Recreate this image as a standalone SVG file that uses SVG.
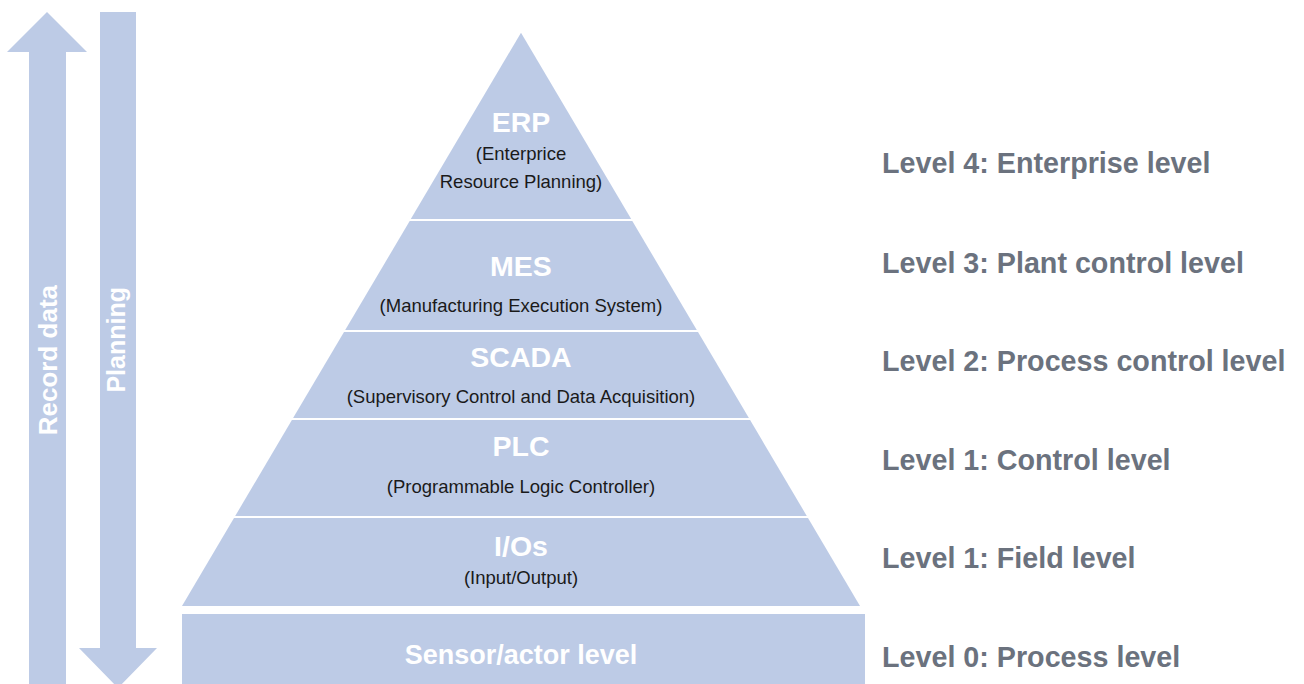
<svg xmlns="http://www.w3.org/2000/svg" width="1304" height="684" viewBox="0 0 1304 684">
<style>
.fill{fill:#bdcbe6}
.t{font-family:"Liberation Sans",Arial,sans-serif;fill:#ffffff;text-anchor:middle}
.title{font-size:28.5px;font-weight:bold}
.sub{font-size:18.5px;fill:#1a1a1a}
.lvl{font-family:"Liberation Sans",Arial,sans-serif;font-size:28.7px;font-weight:bold;fill:#6b727e}
.vert{font-family:"Liberation Sans",Arial,sans-serif;font-size:25px;font-weight:bold;fill:#ffffff;text-anchor:end}
</style>
<rect width="1304" height="684" fill="#ffffff"/>
<g id="arrow-record">
<polygon class="fill" points="47,12 87,52 66,52 66,684 29,684 29,52 7,52"/>
<text class="vert" transform="translate(57,285) rotate(-90)" style="font-size:26px">Record data</text>
</g>
<g id="arrow-planning">
<polygon class="fill" points="100,12 136,12 136,648 157,648 118,688 79,648 100,648"/>
<text class="vert" transform="translate(125,287) rotate(-90)">Planning</text>
</g>
<g id="erp">
<polygon class="fill" points="521,32.7 631.2,219 410.8,219"/>
<text class="t title" x="521" y="132">ERP</text>
<text class="t sub" x="521" y="160">(Enterprice</text>
<text class="t sub" x="521" y="188">Resource Planning)</text>
</g>
<g id="mes">
<polygon class="fill" points="409.7,221 632.3,221 696.8,330 345.2,330"/>
<text class="t title" x="521" y="276">MES</text>
<text class="t sub" x="521" y="312">(Manufacturing Execution System)</text>
</g>
<g id="scada">
<polygon class="fill" points="344,332 698,332 748.9,418 293.1,418"/>
<text class="t title" x="521" y="367">SCADA</text>
<text class="t sub" x="521" y="403">(Supervisory Control and Data Acquisition)</text>
</g>
<g id="plc">
<polygon class="fill" points="291.9,420 750.1,420 806.8,516 235.2,516"/>
<text class="t title" x="521" y="456">PLC</text>
<text class="t sub" x="521" y="493">(Programmable Logic Controller)</text>
</g>
<g id="ios">
<polygon class="fill" points="234,518 808,518 860,606 182,606"/>
<text class="t title" x="521" y="556">I/Os</text>
<text class="t sub" x="521" y="584">(Input/Output)</text>
</g>
<g id="sensor">
<rect class="fill" x="182" y="614" width="683" height="70"/>
<text class="t" x="521" y="664" style="font-size:27px;font-weight:bold">Sensor/actor level</text>
</g>
<g id="levels">
<text class="lvl" x="882" y="173">Level 4: Enterprise level</text>
<text class="lvl" x="882" y="273">Level 3: Plant control level</text>
<text class="lvl" x="882" y="371">Level 2: Process control level</text>
<text class="lvl" x="882" y="470">Level 1: Control level</text>
<text class="lvl" x="882" y="568">Level 1: Field level</text>
<text class="lvl" x="882" y="667">Level 0: Process level</text>
</g>
<g id="connectors"/>
</svg>
